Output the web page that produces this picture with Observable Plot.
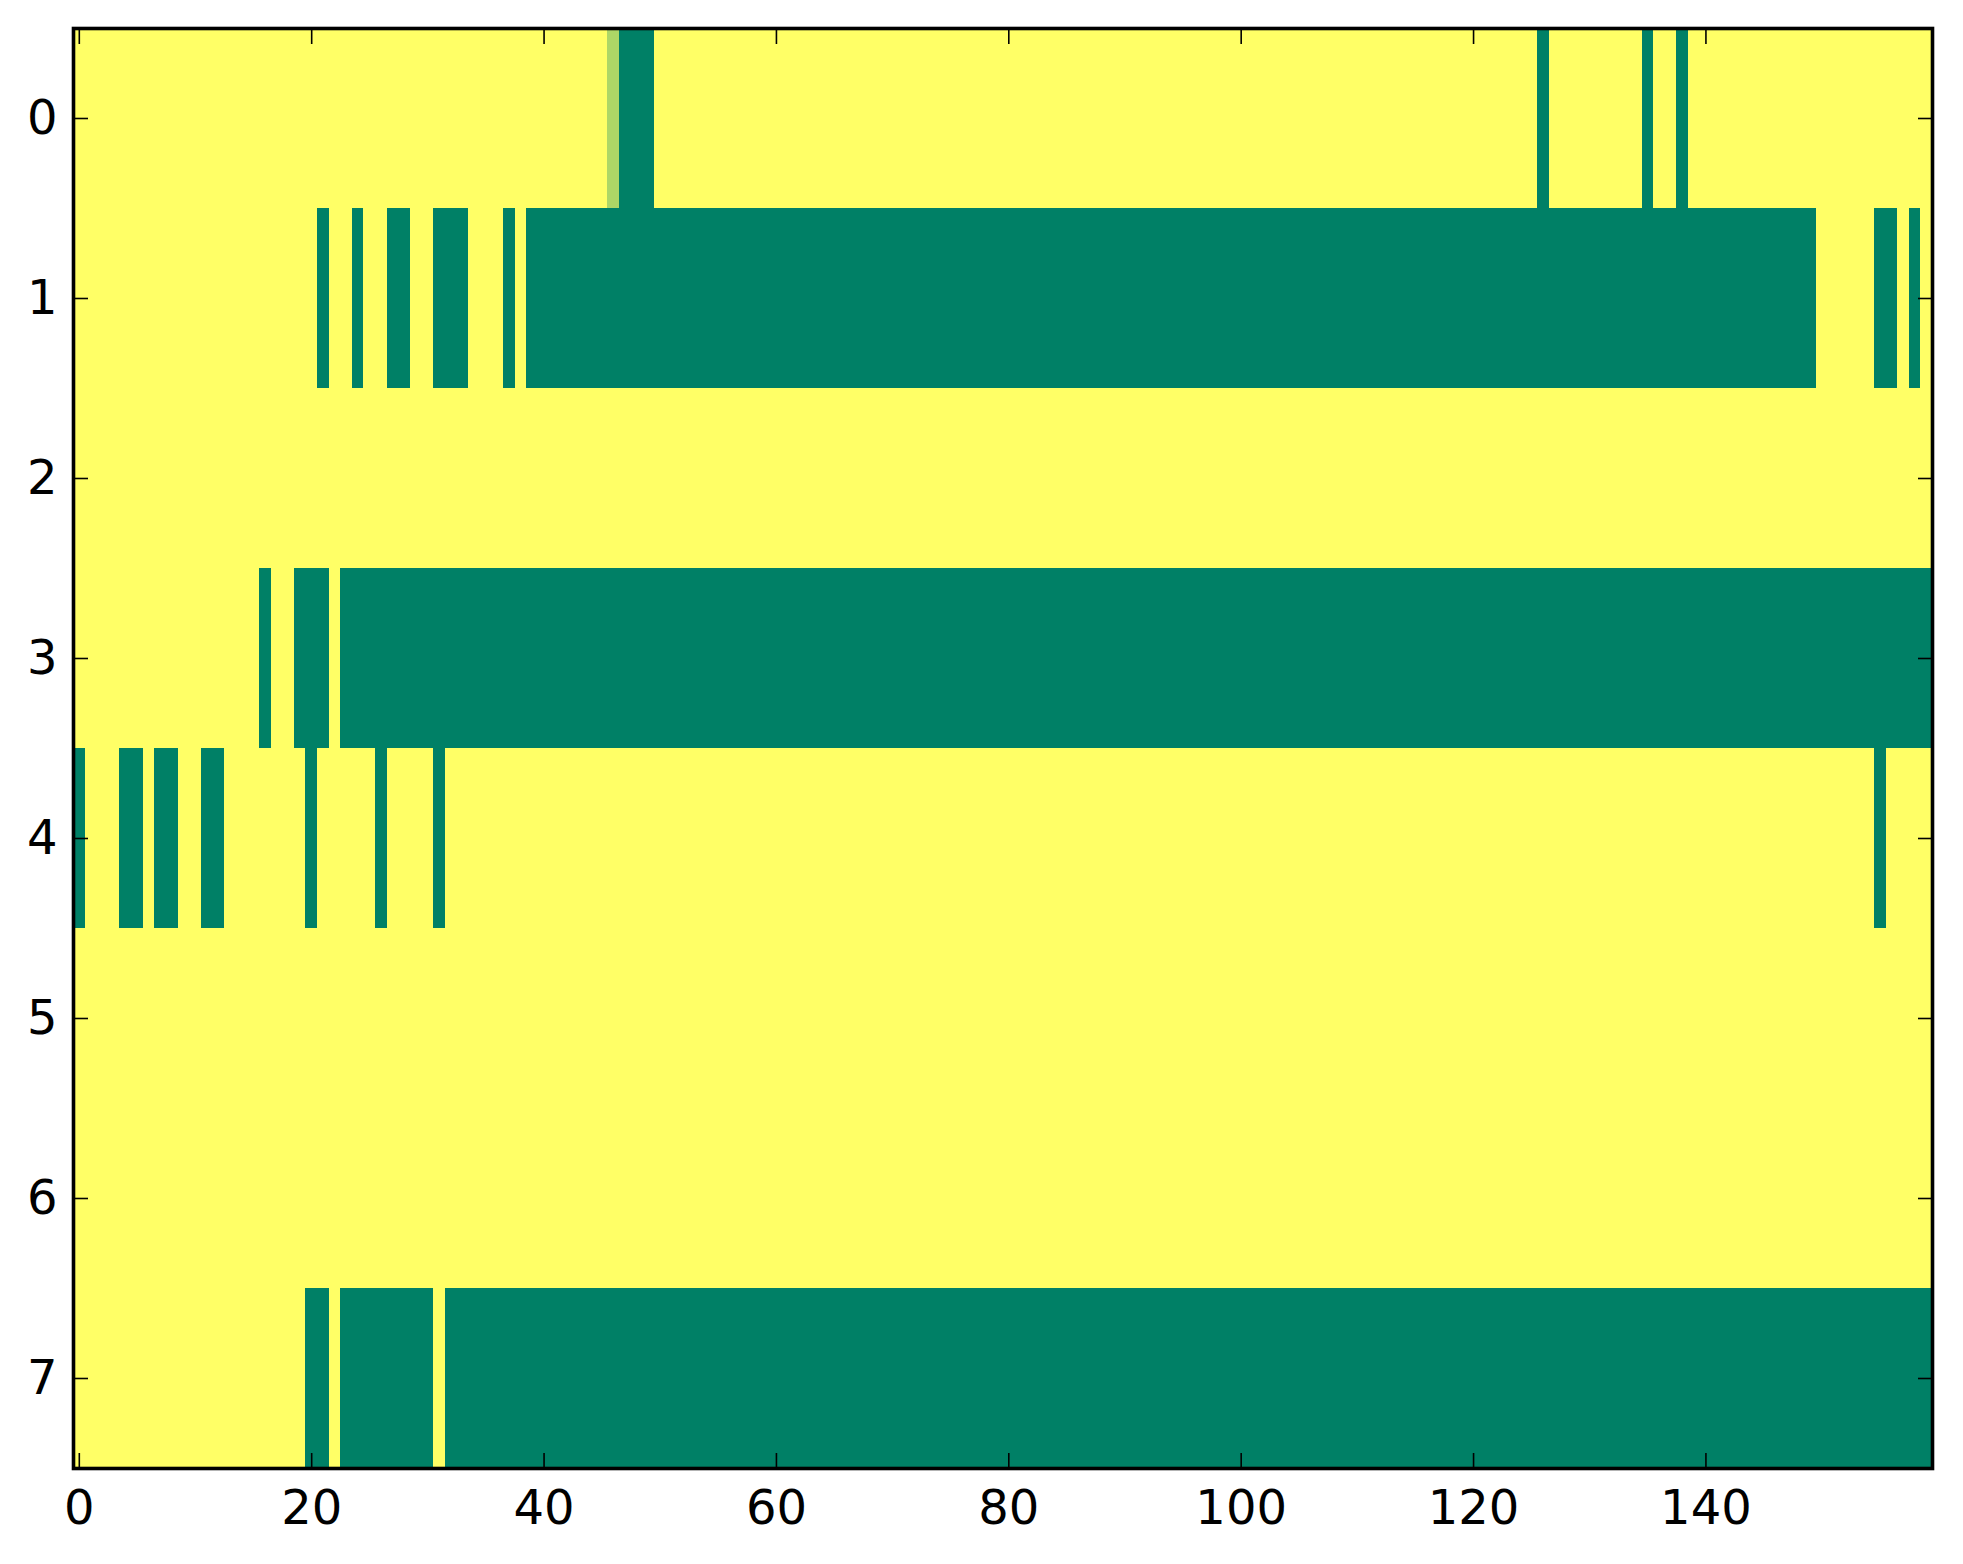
<!DOCTYPE html>
<html><head><meta charset="utf-8">
<script src="https://cdn.jsdelivr.net/npm/d3@7"></script>
<script src="https://cdn.jsdelivr.net/npm/@observablehq/plot@0.6"></script>
<style>html,body{margin:0;padding:0;background:#fff;}</style>
</head><body><div id="chart"></div>
<script>
// Row labels and x tick labels
const rowIds = [0, 1, 2, 3, 4, 5, 6, 7];
const xTicks = [0, 20, 40, 60, 80, 100, 120, 140];
// Cell values per row, 160 columns, in groups of 10: Y = 1 (yellow), G = 0 (green), h = partial
const row0 = "YYYYYYYYYY YYYYYYYYYY YYYYYYYYYY YYYYYYYYYY YYYYYYhGGG YYYYYYYYYY YYYYYYYYYY YYYYYYYYYY YYYYYYYYYY YYYYYYYYYY YYYYYYYYYY YYYYYYYYYY YYYYYYGYYY YYYYYGYYGY YYYYYYYYYY YYYYYYYYYY";
const row1 = "YYYYYYYYYY YYYYYYYYYY YGYYGYYGGY YGGGYYYGYG GGGGGGGGGG GGGGGGGGGG GGGGGGGGGG GGGGGGGGGG GGGGGGGGGG GGGGGGGGGG GGGGGGGGGG GGGGGGGGGG GGGGGGGGGG GGGGGGGGGG GGGGGGGGGG YYYYYGGYGY";
const row2 = "YYYYYYYYYY YYYYYYYYYY YYYYYYYYYY YYYYYYYYYY YYYYYYYYYY YYYYYYYYYY YYYYYYYYYY YYYYYYYYYY YYYYYYYYYY YYYYYYYYYY YYYYYYYYYY YYYYYYYYYY YYYYYYYYYY YYYYYYYYYY YYYYYYYYYY YYYYYYYYYY";
const row3 = "YYYYYYYYYY YYYYYYGYYG GGYGGGGGGG GGGGGGGGGG GGGGGGGGGG GGGGGGGGGG GGGGGGGGGG GGGGGGGGGG GGGGGGGGGG GGGGGGGGGG GGGGGGGGGG GGGGGGGGGG GGGGGGGGGG GGGGGGGGGG GGGGGGGGGG GGGGGGGGGG";
const row4 = "GYYYGGYGGY YGGYYYYYYY GYYYYYGYYY YGYYYYYYYY YYYYYYYYYY YYYYYYYYYY YYYYYYYYYY YYYYYYYYYY YYYYYYYYYY YYYYYYYYYY YYYYYYYYYY YYYYYYYYYY YYYYYYYYYY YYYYYYYYYY YYYYYYYYYY YYYYYGYYYY";
const row5 = "YYYYYYYYYY YYYYYYYYYY YYYYYYYYYY YYYYYYYYYY YYYYYYYYYY YYYYYYYYYY YYYYYYYYYY YYYYYYYYYY YYYYYYYYYY YYYYYYYYYY YYYYYYYYYY YYYYYYYYYY YYYYYYYYYY YYYYYYYYYY YYYYYYYYYY YYYYYYYYYY";
const row6 = "YYYYYYYYYY YYYYYYYYYY YYYYYYYYYY YYYYYYYYYY YYYYYYYYYY YYYYYYYYYY YYYYYYYYYY YYYYYYYYYY YYYYYYYYYY YYYYYYYYYY YYYYYYYYYY YYYYYYYYYY YYYYYYYYYY YYYYYYYYYY YYYYYYYYYY YYYYYYYYYY";
const row7 = "YYYYYYYYYY YYYYYYYYYY GGYGGGGGGG GYGGGGGGGG GGGGGGGGGG GGGGGGGGGG GGGGGGGGGG GGGGGGGGGG GGGGGGGGGG GGGGGGGGGG GGGGGGGGGG GGGGGGGGGG GGGGGGGGGG GGGGGGGGGG GGGGGGGGGG GGGGGGGGGG";
const levels = {Y: 1, G: 0, h: 0.68};

const rows = [row0, row1, row2, row3, row4, row5, row6, row7];
const cells = [];
rows.forEach((s, r) => {
  s.replace(/ /g, "").split("").forEach((c, i) => cells.push({row: rowIds[r], col: i, value: levels[c]}));
});
const nCols = rows[0].replace(/ /g, "").length;

const chart = Plot.plot({
  width: 1963,
  height: 1564,
  marginLeft: 73,
  marginRight: 31,
  marginTop: 28,
  marginBottom: 96,
  style: {fontFamily: "DejaVu Sans", fontSize: "48px", background: "#fff", color: "#000"},
  x: {domain: [-0.5, nCols - 0.5]},
  y: {domain: [-0.5, rowIds.length - 0.5], reverse: true},
  color: {type: "linear", domain: [0, 1], range: ["#008066", "#ffff66"], interpolate: "rgb"},
  marks: [
    Plot.rect(cells, {
      x1: d => d.col - 0.5, x2: d => d.col + 0.5,
      y1: d => d.row - 0.5, y2: d => d.row + 0.5,
      fill: "value", shapeRendering: "crispEdges"
    }),
    Plot.axisX({ticks: xTicks, anchor: "bottom", tickSize: 0, tickPadding: 21, label: null, fontSize: 48}),
    Plot.axisX({ticks: xTicks, anchor: "bottom", tickSize: -15, tickFormat: () => "", label: null, strokeWidth: 1.6}),
    Plot.axisX({ticks: xTicks, anchor: "top", tickSize: -15, tickFormat: () => "", label: null, strokeWidth: 1.6}),
    Plot.axisY({ticks: rowIds, anchor: "left", tickSize: 0, tickPadding: 16, label: null, fontSize: 48}),
    Plot.axisY({ticks: rowIds, anchor: "left", tickSize: -15, tickFormat: () => "", label: null, strokeWidth: 1.6}),
    Plot.axisY({ticks: rowIds, anchor: "right", tickSize: -15, tickFormat: () => "", label: null, strokeWidth: 1.6}),
    Plot.frame({stroke: "#000", strokeWidth: 3.6})
  ]
});
document.getElementById("chart").appendChild(chart);
</script>
</body></html>
